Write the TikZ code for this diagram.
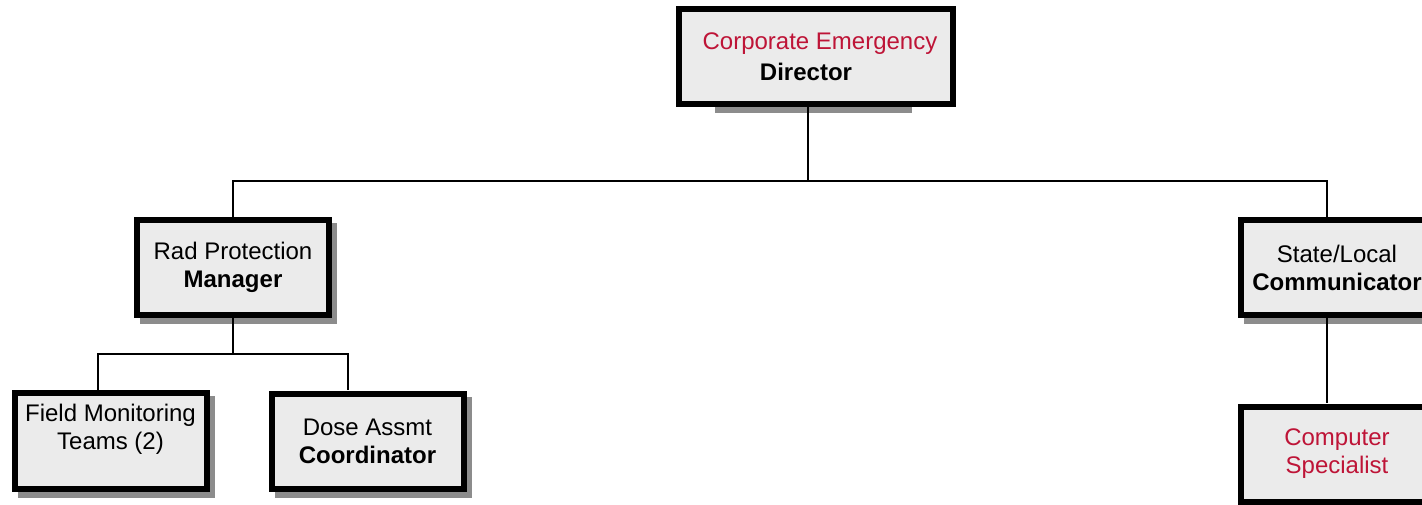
\documentclass[tikz,border=0pt]{standalone}
\usepackage{fontspec}
\setmainfont{Liberation Sans}
\usetikzlibrary{backgrounds}
\definecolor{boxfill}{RGB}{235,235,235}
\definecolor{shadowc}{RGB}{140,140,140}
\definecolor{redtext}{RGB}{190,20,55}
\tikzset{
  orgbox/.style={draw=black, line width=6pt, fill=boxfill, inner sep=0pt, outer sep=3pt,
    minimum width=192pt, minimum height=95pt, align=center,
    font=\fontsize{24}{28}\selectfont},
  link/.style={draw=black, line width=1.7pt},
  shade/.style={fill=shadowc}
}
\begin{document}
\begin{tikzpicture}[x=1pt,y=-1pt]
\useasboundingbox (0,0) rectangle (1422,505);
\clip (0,0) rectangle (1422,505);

\node[orgbox, minimum width=274pt] (dir) at (816,56.5)
  {\hspace*{8pt}\textcolor{redtext}{Corporate Emergency}\\[3pt]\textbf{Director}\hspace*{20pt}};
\node[orgbox] (rad) at (233,267.5) {Rad Protection\\\textbf{Manager}};
\node[orgbox, minimum height=96pt] (field) at (110.5,441) {Field Monitoring\\Teams (2)\\\mbox{}};
\node[orgbox] (dose) at (367.5,441) {Dose Assmt\\\textbf{Coordinator}};
\node[orgbox] (state) at (1337,267.5) {State/Local\\\textbf{Communicator}};
\node[orgbox] (comp) at (1337,454) {\textcolor{redtext}{Computer}\\\textcolor{redtext}{Specialist}};

\begin{scope}[on background layer]
  \fill[white] (0,0) rectangle (1422,505);
  \fill[shade] (715,100) rectangle (912,113);
  \foreach \b in {rad,field,dose,state}
    \fill[shade] ([shift={(6,6)}]\b.north west) rectangle ([shift={(5,6)}]\b.south east);
\end{scope}

\coordinate (dirb) at (808,107);
\coordinate (bus) at (808,181);
\coordinate (stateT) at (1327,217);
\coordinate (stateB) at (1327,318);
\coordinate (compT) at (1327,403);
\coordinate (radbus) at (233,354);
\coordinate (fieldT) at (98,390);
\coordinate (doseT) at (348,390);

\draw[link] (dirb) -- (bus);
\draw[link] (bus) -| (rad.north);
\draw[link] (bus) -| (stateT);
\draw[link] (stateB) -- (compT);
\draw[link] (rad.south) -- (radbus);
\draw[link] (radbus) -| (fieldT);
\draw[link] (radbus) -| (doseT);
\end{tikzpicture}
\end{document}
